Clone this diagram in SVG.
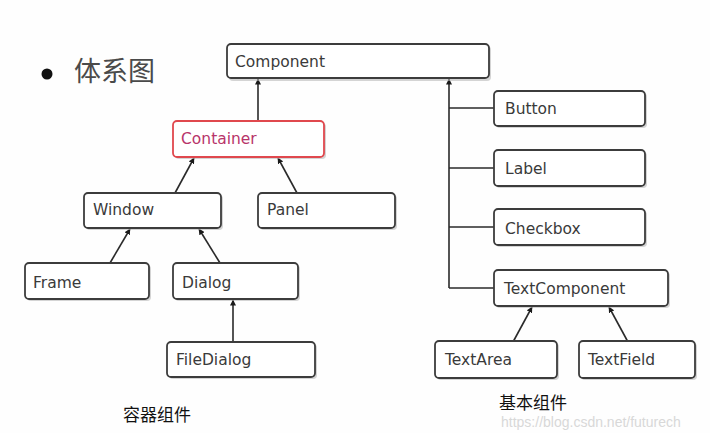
<svg xmlns="http://www.w3.org/2000/svg" width="710" height="433" viewBox="0 0 710 433">
  <style>
    .box { fill: #ffffff; stroke: #3c3c3c; stroke-width: 1.8; }
    .shadow { fill: #b8b8b8; opacity: 0.6; }
    .red { stroke: #e0484e; }
    .lbl { font-family: "DejaVu Sans", "Liberation Sans", sans-serif; font-size: 15.5px; fill: #3a3a3a; }
    .cjk { font-family: "Noto Sans CJK SC", "Liberation Sans", sans-serif; fill: #111111; }
    .wire { fill: none; stroke: #2a2a2a; stroke-width: 1.6; }
  </style>
  <defs>
    <marker id="tip" viewBox="0 0 6 6" refX="5.5" refY="3" markerWidth="6" markerHeight="6" markerUnits="userSpaceOnUse" orient="auto">
      <path d="M0,0 L6,3 L0,6 Z" fill="#1a1a1a"/>
    </marker>
  </defs>
  <rect width="710" height="433" fill="#fefefe"/>

  <!-- heading -->
  <g id="heading">
    <circle cx="47" cy="74" r="5.5" fill="#111"/>
    <text class="cjk" x="74" y="81" font-size="27" style="fill:#4a4a4a">体系图</text>
  </g>

  <!-- connectors -->
  <g id="connectors">
    <line class="wire" x1="258" y1="121" x2="258" y2="79" marker-end="url(#tip)"/>
    <line class="wire" x1="449" y1="288" x2="449" y2="79" marker-end="url(#tip)"/>
    <line class="wire" x1="449" y1="108" x2="494" y2="108"/>
    <line class="wire" x1="449" y1="168" x2="494" y2="168"/>
    <line class="wire" x1="449" y1="227" x2="494" y2="227"/>
    <line class="wire" x1="449" y1="288" x2="494" y2="288"/>
    <line class="wire" x1="175" y1="193" x2="194" y2="158" marker-end="url(#tip)"/>
    <line class="wire" x1="297" y1="193" x2="278" y2="158" marker-end="url(#tip)"/>
    <line class="wire" x1="110" y1="263" x2="130" y2="229" marker-end="url(#tip)"/>
    <line class="wire" x1="220" y1="263" x2="199" y2="229" marker-end="url(#tip)"/>
    <line class="wire" x1="233" y1="342" x2="233" y2="300" marker-end="url(#tip)"/>
    <line class="wire" x1="513" y1="342" x2="532" y2="307" marker-end="url(#tip)"/>
    <line class="wire" x1="628" y1="342" x2="609" y2="307" marker-end="url(#tip)"/>
  </g>

  <g id="component">
    <rect class="shadow" x="229" y="46" width="262" height="35" rx="4"/>
    <rect class="box" x="227" y="44" width="262" height="34" rx="4"/>
    <text class="lbl" x="235" y="67">Component</text>
  </g>
  <g id="container">
    <rect class="shadow" x="175" y="123" width="151" height="36" rx="4"/>
    <rect class="box red" x="173" y="121" width="151" height="36" rx="4"/>
    <text class="lbl" x="181" y="144" style="fill:#b8346a">Container</text>
  </g>
  <g id="window">
    <rect class="shadow" x="86" y="195" width="137" height="35" rx="4"/>
    <rect class="box" x="84" y="193" width="137" height="35" rx="4"/>
    <text class="lbl" x="93" y="215">Window</text>
  </g>
  <g id="panel">
    <rect class="shadow" x="260" y="195" width="137" height="35" rx="4"/>
    <rect class="box" x="258" y="193" width="137" height="35" rx="4"/>
    <text class="lbl" x="267" y="215">Panel</text>
  </g>
  <g id="frame">
    <rect class="shadow" x="27" y="265" width="124" height="36" rx="4"/>
    <rect class="box" x="25" y="263" width="124" height="36" rx="4"/>
    <text class="lbl" x="33" y="288">Frame</text>
  </g>
  <g id="dialog">
    <rect class="shadow" x="175" y="265" width="125" height="36" rx="4"/>
    <rect class="box" x="173" y="263" width="125" height="36" rx="4"/>
    <text class="lbl" x="182" y="288">Dialog</text>
  </g>
  <g id="filedialog">
    <rect class="shadow" x="169" y="344" width="148" height="35" rx="4"/>
    <rect class="box" x="167" y="342" width="148" height="35" rx="4"/>
    <text class="lbl" x="176" y="365">FileDialog</text>
  </g>
  <g id="button">
    <rect class="shadow" x="496" y="93" width="151" height="35" rx="4"/>
    <rect class="box" x="494" y="91" width="151" height="35" rx="4"/>
    <text class="lbl" x="505" y="114">Button</text>
  </g>
  <g id="label">
    <rect class="shadow" x="496" y="152" width="151" height="36" rx="4"/>
    <rect class="box" x="494" y="150" width="151" height="36" rx="4"/>
    <text class="lbl" x="505" y="174">Label</text>
  </g>
  <g id="checkbox">
    <rect class="shadow" x="496" y="211" width="151" height="36" rx="4"/>
    <rect class="box" x="494" y="209" width="151" height="36" rx="4"/>
    <text class="lbl" x="505" y="234">Checkbox</text>
  </g>
  <g id="textcomponent">
    <rect class="shadow" x="496" y="272" width="174" height="36" rx="4"/>
    <rect class="box" x="494" y="270" width="174" height="36" rx="4"/>
    <text class="lbl" x="504" y="294">TextComponent</text>
  </g>
  <g id="textarea">
    <rect class="shadow" x="437" y="343" width="122" height="37" rx="4"/>
    <rect class="box" x="435" y="341" width="122" height="37" rx="4"/>
    <text class="lbl" x="445" y="365">TextArea</text>
  </g>
  <g id="textfield">
    <rect class="shadow" x="581" y="343" width="116" height="37" rx="4"/>
    <rect class="box" x="579" y="341" width="116" height="37" rx="4"/>
    <text class="lbl" x="588" y="365">TextField</text>
  </g>

  <!-- captions -->
  <text class="cjk" x="123" y="421" font-size="17">容器组件</text>
  <text class="cjk" x="499" y="409" font-size="17">基本组件</text>
  <text x="501" y="427" font-family="Liberation Sans, sans-serif" font-size="14" fill="#d8d8d8">https://blog.csdn.net/futurech</text>
</svg>
